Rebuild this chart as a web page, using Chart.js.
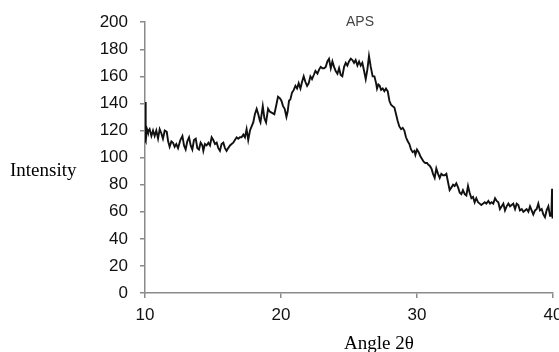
<!DOCTYPE html>
<html>
<head>
<meta charset="utf-8">
<script src="https://cdn.jsdelivr.net/npm/chart.js@4.4.0/dist/chart.umd.min.js"></script>
<style>
  html, body { margin: 0; padding: 0; background: #fff; }
  #wrap { width: 559px; height: 352px; }
</style>
</head>
<body>
<div id="wrap"><canvas id="xrd"></canvas></div>
<script>
// Angle 2theta (peaks and troughs)
var angles = [
  10.00, 10.03, 10.07, 10.15, 10.22, 10.34, 10.47, 10.59, 10.71, 10.83, 10.96, 11.08, 11.20, 11.32, 11.45, 11.60, 11.70, 11.81, 11.94,
  12.06, 12.18, 12.30, 12.43, 12.60, 12.75, 12.87, 12.99, 13.11, 13.24, 13.36, 13.48, 13.60, 13.73, 13.85, 13.97, 14.09, 14.22,
  14.29, 14.41, 14.53, 14.66, 14.78, 14.90, 15.02, 15.15, 15.27, 15.39, 15.51, 15.63, 15.76, 15.88, 16.00, 16.12, 16.25, 16.37,
  16.49, 16.61, 16.74, 16.86, 16.98, 17.10, 17.23, 17.35, 17.47, 17.59, 17.72, 17.84, 17.96, 18.08, 18.21, 18.33, 18.45,
  18.49, 18.66, 18.78, 18.90, 19.05, 19.17, 19.34, 19.51, 19.66, 19.78, 19.91, 20.03, 20.15, 20.27, 20.40, 20.49, 20.59, 20.69,
  20.81, 20.94, 21.06, 21.18, 21.30, 21.43, 21.55, 21.67, 21.79, 21.92, 22.04, 22.16, 22.28, 22.41, 22.53,
  22.68, 22.80, 22.92, 23.04, 23.17, 23.29, 23.41, 23.53, 23.66, 23.78, 23.90, 24.02, 24.15, 24.27, 24.39, 24.51, 24.64, 24.76,
  24.88, 25.00, 25.13, 25.25, 25.37, 25.49, 25.62, 25.74, 25.86, 25.98, 26.11, 26.23, 26.35, 26.47, 26.60,
  26.74, 26.87, 26.99, 27.06, 27.16, 27.26, 27.36, 27.48, 27.60, 27.72, 27.85, 27.97, 28.09, 28.21, 28.34, 28.46, 28.58, 28.70,
  28.83, 28.95, 29.07, 29.19, 29.32, 29.44, 29.56, 29.68, 29.81, 29.88, 30.00, 30.12, 30.25, 30.37, 30.49, 30.61, 30.74,
  30.81, 30.93, 31.06, 31.18, 31.30, 31.42, 31.55, 31.67, 31.79, 31.91, 32.04, 32.16, 32.28, 32.40, 32.53, 32.65, 32.77, 32.89,
  33.02, 33.14, 33.26, 33.38, 33.51, 33.63, 33.75, 33.87, 34.00, 34.12, 34.24, 34.36, 34.49, 34.61, 34.73, 34.85, 34.98, 35.10,
  35.25, 35.37, 35.49, 35.61, 35.74, 35.86, 35.98, 36.10, 36.23, 36.35, 36.47, 36.59, 36.72, 36.84, 36.96, 37.08, 37.21, 37.33,
  37.45, 37.57, 37.70, 37.82, 37.94, 38.06, 38.19, 38.31, 38.43, 38.55, 38.68, 38.80, 38.92, 39.04, 39.17, 39.29, 39.41, 39.53,
  39.66, 39.78, 39.88, 39.93, 39.97, 40.00
];
var intensity = [
  113, 141, 112, 121, 119, 121, 116, 120, 116, 120, 114, 121, 118, 114, 120, 119, 112, 108, 112,
  111, 108, 110, 107, 113, 116, 109, 106, 112, 115, 109, 106, 113, 114, 107, 106, 111, 109,
  105, 110, 109, 111, 109, 115, 113, 110, 111, 107, 105, 110, 111, 107, 105, 107, 109, 110,
  111, 113, 115, 114, 115, 115, 117, 115, 121, 113, 120, 123, 126, 132, 136, 132, 127,
  126, 138, 129, 126, 136, 134, 133, 132, 139, 145, 144, 142, 138, 136, 130, 134, 142, 143,
  148, 150, 153, 151, 155, 151, 156, 160, 156, 153, 155, 160, 158, 161, 164,
  162, 165, 167, 166, 166, 167, 171, 173, 166, 171, 167, 164, 162, 166, 161, 160, 167, 170,
  168, 171, 173, 172, 170, 172, 168, 171, 168, 170, 164, 158, 165, 175, 167,
  160, 160, 155, 151, 154, 153, 150, 151, 149, 151, 149, 142, 139, 138, 137, 132, 127, 123,
  121, 122, 120, 115, 112, 110, 106, 104, 105, 102, 106, 104, 101, 99, 97, 96, 96,
  95, 94, 92, 88, 85, 92, 88, 85, 88, 87, 87, 88, 82, 76, 78, 80, 79, 81,
  78, 74, 73, 76, 73, 72, 79, 74, 70, 71, 67, 70, 67, 66, 65, 66, 67, 66,
  68, 66, 67, 66, 70, 68, 67, 62, 64, 66, 61, 64, 66, 64, 65, 66, 62, 66,
  65, 61, 62, 60, 61, 62, 60, 64, 61, 58, 61, 62, 66, 61, 62, 58, 56, 61,
  64, 57, 57, 77, 55, 60
];
var yTicks = [0, 20, 40, 60, 80, 100, 120, 140, 160, 180, 200];
var xTicks = [10, 20, 30, 40];

var points = angles.map(function (a, i) { return { x: a, y: intensity[i] }; });

var axisColor = '#8a8a8a';

// extra texts: title and the two axis names, placed like the original
var textPlugin = {
  id: 'texts',
  afterDraw: function (chart) {
    var ctx = chart.ctx;
    ctx.save();
    ctx.fillStyle = '#444';
    ctx.font = '14px "Liberation Sans", Arial, sans-serif';
    ctx.textAlign = 'center';
    ctx.textBaseline = 'alphabetic';
    ctx.fillText('APS', 360, 26);

    ctx.fillStyle = '#000';
    ctx.font = '19px "Liberation Serif", "Times New Roman", serif';
    ctx.textAlign = 'left';
    ctx.fillText('Intensity', 10, 176);
    ctx.textAlign = 'center';
    ctx.fillText('Angle 2\u03b8', 379, 349);
    ctx.restore();
  }
};

var ctx = document.getElementById('xrd').getContext('2d');
new Chart(ctx, {
  type: 'line',
  data: {
    datasets: [{
      data: points,
      borderColor: '#111',
      borderWidth: 1.9,
      pointRadius: 0,
      tension: 0,
      fill: false
    }]
  },
  options: {
    responsive: true,
    maintainAspectRatio: false,
    animation: false,
    events: [],
    layout: { padding: { left: 0, right: 6, top: 21, bottom: 19 } },
    plugins: {
      legend: { display: false },
      title: { display: false },
      tooltip: { enabled: false }
    },
    scales: {
      x: {
        type: 'linear',
        min: 10,
        max: 40,
        afterBuildTicks: function (s) { s.ticks = xTicks.map(function (v) { return { value: v }; }); },
        afterFit: function (s) { s.height = 40; s.paddingRight = 0; s.paddingLeft = 0; },
        border: { color: axisColor, width: 1.5 },
        grid: { drawOnChartArea: false, drawTicks: true, tickLength: 5, color: axisColor, lineWidth: 1.5 },
        ticks: {
          maxRotation: 0,
          autoSkip: false,
          padding: 7,
          color: '#111',
          font: { family: '"Liberation Sans", Arial, sans-serif', size: 17 }
        }
      },
      y: {
        min: 0,
        max: 200,
        afterBuildTicks: function (s) { s.ticks = yTicks.map(function (v) { return { value: v }; }); },
        afterFit: function (s) { s.width = 145; },
        border: { color: axisColor, width: 1.5 },
        grid: { drawOnChartArea: false, drawTicks: true, tickLength: 5, color: axisColor, lineWidth: 1.5 },
        ticks: {
          padding: 12,
          color: '#111',
          font: { family: '"Liberation Sans", Arial, sans-serif', size: 17 }
        }
      }
    }
  },
  plugins: [textPlugin]
});
</script>
</body>
</html>
